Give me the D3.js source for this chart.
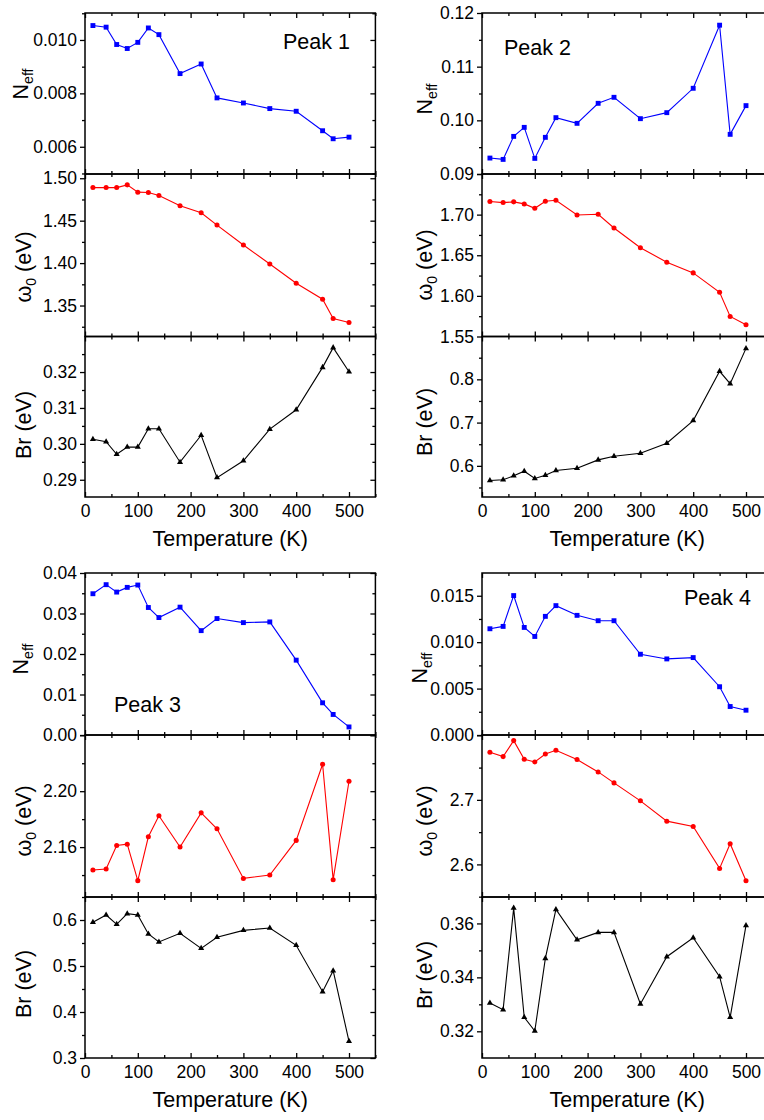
<!DOCTYPE html>
<html>
<head>
<meta charset="utf-8">
<script src="https://cdn.jsdelivr.net/npm/d3@7"></script>
<style>
  html, body { margin: 0; padding: 0; background: #fff; }
  svg { display: block; }
  text { font-family: "Liberation Sans", Arial, Helvetica, sans-serif; fill: #000; }
</style>
</head>
<body>
<script>
// Temperature points (K) shared by every panel
const temperature = [15, 40, 60, 80, 100, 120, 140, 180, 220, 250, 300, 350, 400, 450, 470, 500];

// Peak 1
const peak1Neff  = [0.01054, 0.01048, 0.00983, 0.00968, 0.00991, 0.01045, 0.01020, 0.00874, 0.00910, 0.00783, 0.00764, 0.00743, 0.00733, 0.00660, 0.00630, 0.00636];
const peak1Omega = [1.4890, 1.4890, 1.4890, 1.4922, 1.4836, 1.4832, 1.4796, 1.4675, 1.4593, 1.4448, 1.4213, 1.3990, 1.3763, 1.3575, 1.3348, 1.3301];
const peak1Br    = [0.3013, 0.3006, 0.2971, 0.2991, 0.2991, 0.3042, 0.3042, 0.2949, 0.3024, 0.2906, 0.2953, 0.3041, 0.3095, 0.3213, 0.3268, 0.3201];

// Peak 2
const peak2Neff  = [0.09297, 0.09272, 0.09701, 0.09869, 0.09291, 0.09683, 0.10050, 0.09944, 0.10317, 0.10429, 0.10031, 0.10143, 0.10597, 0.11773, 0.09739, 0.10274];
const peak2Omega = [1.7161, 1.7148, 1.7157, 1.7132, 1.7078, 1.7165, 1.7177, 1.6996, 1.7004, 1.6835, 1.6592, 1.6415, 1.6283, 1.6044, 1.5747, 1.5644];
const peak2Br    = [0.5662, 0.5677, 0.5769, 0.5877, 0.5708, 0.5785, 0.5892, 0.5946, 0.6138, 0.6223, 0.6292, 0.6523, 0.7046, 0.8185, 0.7900, 0.8715];

// Peak 3
const peak3Neff  = [0.03488, 0.03712, 0.03529, 0.03645, 0.03703, 0.03148, 0.02900, 0.03157, 0.02577, 0.02875, 0.02775, 0.02792, 0.01848, 0.00795, 0.00507, 0.00199];
const peak3Omega = [2.1436, 2.1443, 2.1612, 2.1621, 2.1360, 2.1674, 2.1824, 2.1600, 2.1845, 2.1731, 2.1376, 2.1400, 2.1648, 2.2193, 2.1367, 2.2071];
const peak3Br    = [0.5949, 0.6109, 0.5906, 0.6138, 0.6109, 0.5696, 0.5522, 0.5710, 0.5384, 0.5623, 0.5775, 0.5826, 0.5449, 0.4442, 0.4899, 0.3362];

// Peak 4
const peak4Neff  = [0.011444, 0.011697, 0.015018, 0.011588, 0.010614, 0.012780, 0.013935, 0.012888, 0.012310, 0.012310, 0.008700, 0.008195, 0.008339, 0.005199, 0.003069, 0.002671];
const peak4Omega = [2.7737, 2.7670, 2.7918, 2.7629, 2.7588, 2.7711, 2.7768, 2.7624, 2.7433, 2.7263, 2.6985, 2.6670, 2.6588, 2.5938, 2.6320, 2.5747];
const peak4Br    = [0.33049, 0.32802, 0.36568, 0.32519, 0.32012, 0.34704, 0.36519, 0.35395, 0.35667, 0.35667, 0.33012, 0.34765, 0.35469, 0.34025, 0.32519, 0.35926];

// Axis ranges and ticks
const xDomain = [0, 550];
const xTicks = [0, 100, 200, 300, 400, 500];
const xMinorTicks = [50, 150, 250, 350, 450, 550];
const peakNames = ["Peak 1", "Peak 2", "Peak 3", "Peak 4"];

const W = 764, H = 1120;
const svg = d3.select("body").append("svg").attr("width", W).attr("height", H);

// Layout of the 2x2 grid of stacked panel groups
const colLeft = [85, 482];
const plotWidth = 290.4;
const rowEdges = [[13, 174, 336.5, 497], [573, 735, 897, 1058]];

const colors = { neff: "#0000ff", omega: "#ff0000", br: "#000000" };
const symbols = { neff: d3.symbolSquare, omega: d3.symbolCircle, br: d3.symbolTriangle };
const symbolSizes = { neff: 24, omega: 20, br: 16 };

const groups = [
  { col: 0, row: 0, name: peakNames[0], nameX: 283, nameY: 49,
    labelX: [28, 31, 31], labelY: [84, 267, 425],
    panels: [
      { kind: "neff", values: peak1Neff, domain: [0.00498, 0.01101], major: [0.006, 0.008, 0.010], minor: [0.005, 0.007, 0.009, 0.011], fmt: ".3f", hide: [] },
      { kind: "omega", values: peak1Omega, domain: [1.3135, 1.505], major: [1.35, 1.40, 1.45, 1.50], minor: [1.325, 1.375, 1.425, 1.475], fmt: ".2f", hide: [] },
      { kind: "br", values: peak1Br, domain: [0.2852, 0.3299], major: [0.29, 0.30, 0.31, 0.32], minor: [0.295, 0.305, 0.315, 0.325], fmt: ".2f", hide: [] }
    ] },
  { col: 1, row: 0, name: peakNames[1], nameX: 504, nameY: 55,
    labelX: [432, 432, 432], labelY: [99, 265, 422],
    panels: [
      { kind: "neff", values: peak2Neff, domain: [0.09, 0.12], major: [0.09, 0.10, 0.11, 0.12], minor: [0.095, 0.105, 0.115], fmt: ".2f", hide: [] },
      { kind: "omega", values: peak2Omega, domain: [1.55, 1.75], major: [1.55, 1.60, 1.65, 1.70, 1.75], minor: [1.575, 1.625, 1.675, 1.725], fmt: ".2f", hide: [1.75] },
      { kind: "br", values: peak2Br, domain: [0.528, 0.899], major: [0.6, 0.7, 0.8], minor: [0.55, 0.65, 0.75, 0.85], fmt: ".1f", hide: [] }
    ] },
  { col: 0, row: 1, name: peakNames[2], nameX: 114, nameY: 712,
    labelX: [28, 31, 31], labelY: [659, 821, 984],
    panels: [
      { kind: "neff", values: peak3Neff, domain: [0, 0.04], major: [0, 0.01, 0.02, 0.03, 0.04], minor: [0.005, 0.015, 0.025, 0.035], fmt: ".2f", hide: [] },
      { kind: "omega", values: peak3Omega, domain: [2.1243, 2.2402], major: [2.16, 2.20, 2.24], minor: [2.14, 2.18, 2.22], fmt: ".2f", hide: [2.24] },
      { kind: "br", values: peak3Br, domain: [0.3, 0.65], major: [0.3, 0.4, 0.5, 0.6], minor: [0.35, 0.45, 0.55, 0.65], fmt: ".1f", hide: [] }
    ] },
  { col: 1, row: 1, name: peakNames[3], nameX: 684, nameY: 605,
    labelX: [427, 432, 432], labelY: [668, 821, 975],
    panels: [
      { kind: "neff", values: peak4Neff, domain: [0, 0.01745], major: [0, 0.005, 0.010, 0.015], minor: [0.0025, 0.0075, 0.0125], fmt: ".3f", hide: [] },
      { kind: "omega", values: peak4Omega, domain: [2.5495, 2.8005], major: [2.6, 2.7, 2.8], minor: [2.55, 2.65, 2.75], fmt: ".1f", hide: [2.8] },
      { kind: "br", values: peak4Br, domain: [0.3101, 0.3698], major: [0.32, 0.34, 0.36], minor: [0.33, 0.35], fmt: ".2f", hide: [] }
    ] }
];

const TICK = 5, MINOR = 3;
const FONT_TICK = 17.5, FONT_TITLE = 21.5;

function styleAxis(g) {
  g.select(".domain").remove();
  g.selectAll(".tick line").attr("stroke", "#000").attr("stroke-width", 1.3);
  g.selectAll(".tick text").attr("font-size", FONT_TICK).attr("fill", "#000")
    .attr("font-family", "'Liberation Sans', Arial, sans-serif");
}

function yLabel(g, kind, x, y) {
  const t = g.append("text")
    .attr("transform", `translate(${x},${y}) rotate(-90)`)
    .attr("text-anchor", "middle")
    .attr("font-size", FONT_TITLE);
  if (kind === "neff") {
    t.append("tspan").text("N");
    t.append("tspan").attr("font-size", 14).attr("dy", 5).text("eff");
  } else if (kind === "omega") {
    t.append("tspan").text("ω");
    t.append("tspan").attr("font-size", 14).attr("dy", 5).text("0");
    t.append("tspan").attr("dy", -5).text(" (eV)");
  } else {
    t.text("Br (eV)");
  }
}

groups.forEach(grp => {
  const x0 = colLeft[grp.col];
  const edges = rowEdges[grp.row];
  const x = d3.scaleLinear().domain(xDomain).range([x0, x0 + plotWidth]);
  const gGroup = svg.append("g");

  grp.panels.forEach((p, i) => {
    const top = edges[i], bottom = edges[i + 1];
    const y = d3.scaleLinear().domain(p.domain).range([bottom, top]);
    const g = gGroup.append("g");
    const fmt = d3.format(p.fmt);

    // frame
    g.append("rect")
      .attr("x", x0).attr("y", top)
      .attr("width", plotWidth).attr("height", bottom - top)
      .attr("fill", "none").attr("stroke", "#000").attr("stroke-width", 1.5);

    // left axis: outward ticks with labels
    g.append("g").attr("transform", `translate(${x0},0)`)
      .call(d3.axisLeft(y).tickValues(p.major).tickSize(TICK).tickPadding(3)
        .tickFormat(v => p.hide.some(h => Math.abs(h - v) < 1e-9) ? "" : fmt(v)))
      .call(styleAxis);
    g.append("g").attr("transform", `translate(${x0},0)`)
      .call(d3.axisLeft(y).tickValues(p.minor).tickSize(MINOR).tickFormat(""))
      .call(styleAxis);

    // right axis: inward ticks
    g.append("g").attr("transform", `translate(${x0 + plotWidth},0)`)
      .call(d3.axisLeft(y).tickValues(p.major).tickSize(TICK).tickFormat(""))
      .call(styleAxis);
    g.append("g").attr("transform", `translate(${x0 + plotWidth},0)`)
      .call(d3.axisLeft(y).tickValues(p.minor).tickSize(MINOR).tickFormat(""))
      .call(styleAxis);

    // top and bottom x ticks pointing inward
    g.append("g").attr("transform", `translate(0,${top})`)
      .call(d3.axisBottom(x).tickValues(xTicks).tickSize(TICK).tickFormat(""))
      .call(styleAxis);
    g.append("g").attr("transform", `translate(0,${top})`)
      .call(d3.axisBottom(x).tickValues(xMinorTicks).tickSize(MINOR).tickFormat(""))
      .call(styleAxis);
    g.append("g").attr("transform", `translate(0,${bottom})`)
      .call(d3.axisTop(x).tickValues(xTicks).tickSize(TICK).tickFormat(""))
      .call(styleAxis);
    g.append("g").attr("transform", `translate(0,${bottom})`)
      .call(d3.axisTop(x).tickValues(xMinorTicks).tickSize(MINOR).tickFormat(""))
      .call(styleAxis);

    // data line and markers
    const pts = temperature.map((t, k) => [t, p.values[k]]);
    g.append("path")
      .datum(pts)
      .attr("fill", "none")
      .attr("stroke", colors[p.kind])
      .attr("stroke-width", 1.1)
      .attr("d", d3.line().x(d => x(d[0])).y(d => y(d[1])));
    g.selectAll("path.mark")
      .data(pts)
      .join("path")
      .attr("class", "mark")
      .attr("transform", d => `translate(${x(d[0])},${y(d[1])})`)
      .attr("fill", colors[p.kind])
      .attr("d", d3.symbol().type(symbols[p.kind]).size(symbolSizes[p.kind]));

    yLabel(g, p.kind, grp.labelX[i], grp.labelY[i]);

    // x tick labels and title under the last panel
    if (i === grp.panels.length - 1) {
      g.append("g").attr("transform", `translate(0,${bottom})`)
        .call(d3.axisBottom(x).tickValues(xTicks).tickSize(0).tickPadding(8).tickFormat(d3.format("d")))
        .call(styleAxis);
      g.append("text")
        .attr("x", x0 + plotWidth / 2)
        .attr("y", bottom + 49)
        .attr("text-anchor", "middle")
        .attr("font-size", FONT_TITLE)
        .text("Temperature (K)");
    }
  });

  gGroup.append("text")
    .attr("x", grp.nameX).attr("y", grp.nameY)
    .attr("font-size", 21.5)
    .text(grp.name);
});
</script>
</body>
</html>
